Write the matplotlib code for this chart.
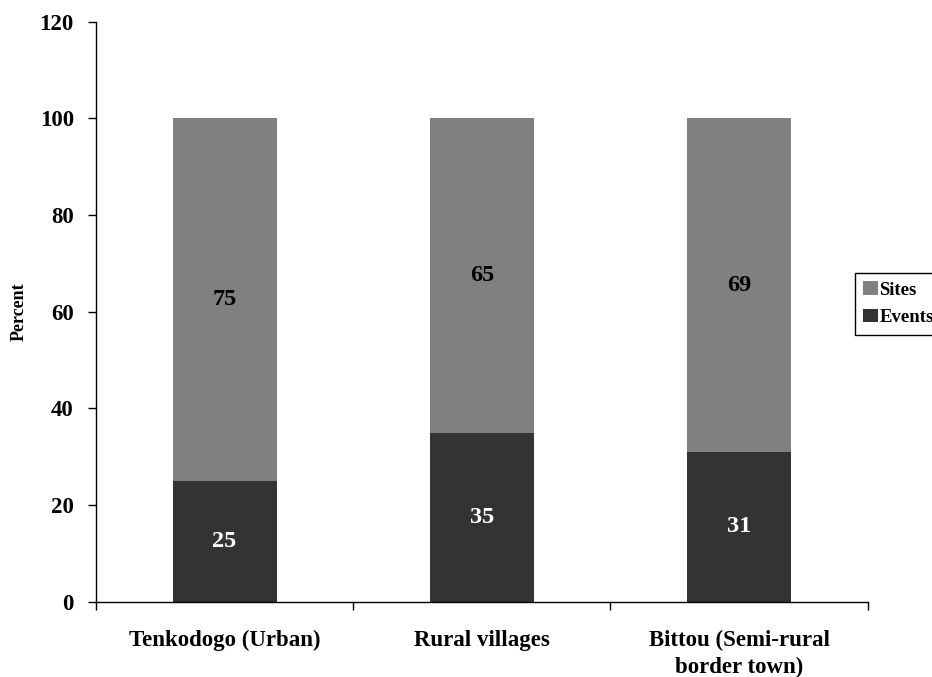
import matplotlib
matplotlib.use("Agg")
import matplotlib.pyplot as plt
import numpy as np

categories = ["Tenkodogo (Urban)", "Rural villages", "Bittou (Semi-rural\nborder town)"]
events = [25, 35, 31]
sites = [75, 65, 69]

plt.rcParams['font.family'] = ['Liberation Serif', 'DejaVu Serif']
plt.rcParams['font.weight'] = 'bold'

fig = plt.figure(figsize=(9.32, 6.77), dpi=100)
ax = fig.add_axes([0.103, 0.111, 0.828, 0.857])

x = np.arange(len(categories))
w = 0.405
b1 = ax.bar(x, events, w, color='#333333', label='Events')
b2 = ax.bar(x, sites, w, bottom=events, color='#808080', label='Sites')

for i in range(len(x)):
    ax.text(x[i], events[i] / 2, f"{events[i]}", ha='center', va='center',
            color='white', fontsize=17.5, fontweight='bold')
    ax.text(x[i], events[i] + sites[i] / 2, f"{sites[i]}", ha='center', va='center',
            color='black', fontsize=17.5, fontweight='bold')

ax.set_xlim(-0.5, len(categories) - 0.5)
ax.set_ylim(0, 120)
ax.set_yticks(range(0, 121, 20))
ax.tick_params(axis='y', direction='out', length=6, width=1, labelsize=16.5, pad=10)
for lab in ax.get_yticklabels():
    lab.set_fontweight('bold')

# category boundaries get ticks, labels sit at centres
ax.set_xticks(np.arange(-0.5, len(categories), 1.0))
ax.set_xticklabels([])
ax.set_xticks(x, minor=True)
ax.set_xticklabels(categories, minor=True, fontsize=16.5, fontweight='bold',
                   linespacing=1.35)
ax.tick_params(axis='x', which='major', direction='out', length=6, width=1)
ax.tick_params(axis='x', which='minor', length=0, pad=20)

for s in ['top', 'right']:
    ax.spines[s].set_visible(False)
ax.spines['left'].set_linewidth(1)
ax.spines['bottom'].set_linewidth(1)

ax.set_ylabel('Percent', fontsize=13, fontweight='bold')
ax.yaxis.set_label_coords(-0.088, 0.5)

fig.legend([b2, b1], ['Sites', 'Events'], loc='upper left',
           bbox_to_anchor=(855 / 932, 1 - 273 / 677), fancybox=False,
           edgecolor='black', framealpha=1, fontsize=13.5, handlelength=0.75,
           handleheight=0.72, handletextpad=0.1, borderpad=0.45, labelspacing=0.55,
           borderaxespad=0)

fig.savefig('out.png', dpi=100)
